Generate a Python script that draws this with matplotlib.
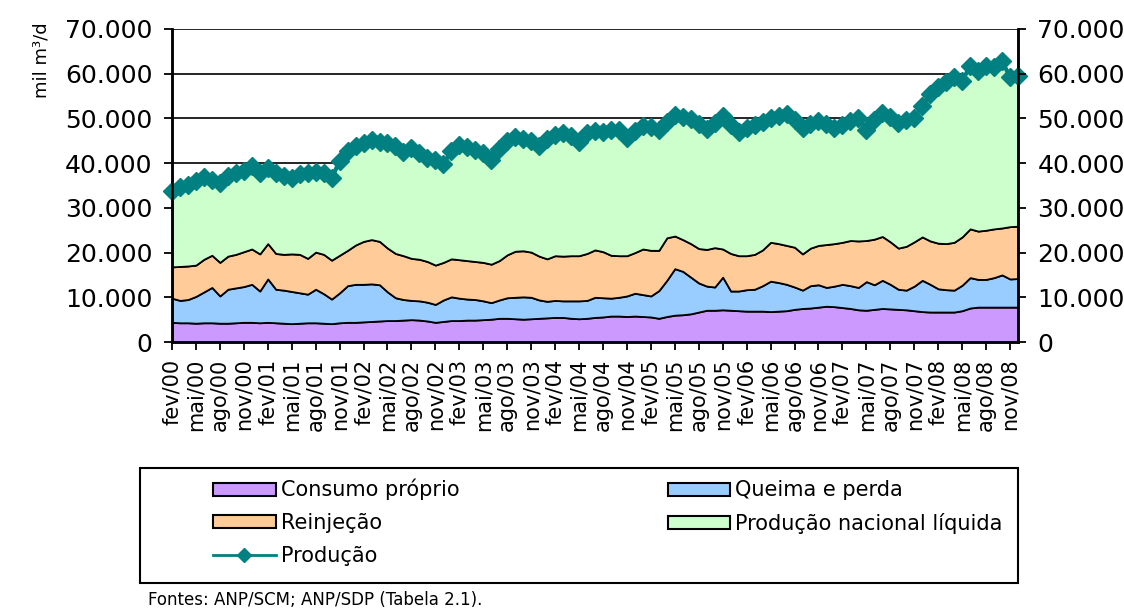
import matplotlib
matplotlib.use("Agg")
import matplotlib.pyplot as plt
import matplotlib.patches as mpatches
from matplotlib.lines import Line2D
from matplotlib.ticker import FuncFormatter
import numpy as np

plt.rcParams['font.family'] = ['DejaVu Sans']

# monthly categories fev/00 .. dez/08
meses = ['jan', 'fev', 'mar', 'abr', 'mai', 'jun', 'jul', 'ago', 'set', 'out', 'nov', 'dez']
categorias = [f"{meses[m]}/{a:02d}" for a in range(0, 9) for m in range(12)][1:]

tick_labels = ['fev/00', 'mai/00', 'ago/00', 'nov/00', 'fev/01', 'mai/01', 'ago/01', 'nov/01',
               'fev/02', 'mai/02', 'ago/02', 'nov/02', 'fev/03', 'mai/03', 'ago/03', 'nov/03',
               'fev/04', 'mai/04', 'ago/04', 'nov/04', 'fev/05', 'mai/05', 'ago/05', 'nov/05',
               'fev/06', 'mai/06', 'ago/06', 'nov/06', 'fev/07', 'mai/07', 'ago/07', 'nov/07',
               'fev/08', 'mai/08', 'ago/08', 'nov/08']

consumo_proprio = [
    4400, 4300, 4300, 4200, 4300, 4300, 4200, 4200, 4300, 4400, 4400, 4300,
    4400, 4300, 4200, 4100, 4200, 4300, 4300, 4200, 4100, 4300, 4400, 4400,
    4500, 4600, 4700, 4800, 4800, 4900, 5000, 4900, 4700, 4400, 4600, 4800,
    4800, 4900, 4900, 5000, 5100, 5300, 5300, 5200, 5100, 5200, 5300, 5400,
    5500, 5500, 5300, 5200, 5300, 5500, 5600, 5800, 5800, 5700, 5800, 5700,
    5600, 5300, 5700, 6000, 6100, 6300, 6700, 7100, 7100, 7200, 7100, 7000,
    6900, 6900, 6900, 6800, 6900, 7000, 7300, 7500, 7600, 7800, 8000, 7900,
    7700, 7500, 7200, 7100, 7300, 7500, 7400, 7300, 7200, 7000, 6800, 6700,
    6700, 6700, 6700, 7000, 7600, 7800, 7800, 7800, 7800, 7800, 7800]

queima_perda = [
    5400, 5000, 5200, 6000, 6900, 7900, 6100, 7600, 7800, 8000, 8500, 7100,
    9700, 7500, 7400, 7200, 6800, 6400, 7500, 6600, 5500, 6700, 8200, 8500,
    8400, 8400, 8100, 6400, 5100, 4600, 4300, 4300, 4200, 4000, 4800, 5300,
    5000, 4700, 4600, 4200, 3700, 4100, 4600, 4800, 5000, 4800, 4100, 3700,
    3800, 3700, 3900, 4000, 4000, 4500, 4300, 4000, 4200, 4600, 5100, 4900,
    4700, 6200, 8100, 10400, 9700, 8200, 6500, 5400, 5200, 7300, 4300, 4400,
    4800, 4900, 5700, 6800, 6400, 5900, 5000, 4100, 5000, 5000, 4200, 4600,
    5200, 5100, 5000, 6400, 5500, 6300, 5500, 4500, 4400, 5500, 7000, 6200,
    5200, 5000, 4900, 5700, 6800, 6200, 6200, 6600, 7200, 6300, 6400]

reinjecao = [
    7000, 7600, 7500, 7000, 7300, 7200, 7500, 7400, 7500, 7800, 7900, 8300,
    7900, 8000, 8000, 8400, 8600, 8000, 8300, 8800, 8700, 8400, 7900, 8800,
    9600, 9900, 9700, 9800, 9900, 9800, 9400, 9300, 9100, 8800, 8400, 8500,
    8600, 8600, 8500, 8600, 8600, 8800, 9600, 10300, 10300, 10100, 9800, 9500,
    10000, 10000, 10100, 10100, 10500, 10600, 10300, 9600, 9300, 9000, 9100, 10200,
    10200, 9000, 9500, 7300, 7100, 7500, 7700, 8200, 8800, 6300, 8400, 7900,
    7600, 7800, 8000, 8700, 8700, 8700, 8900, 8100, 8400, 8800, 9600, 9500,
    9400, 10100, 10400, 9200, 10200, 9800, 9500, 9200, 9800, 9900, 9700, 9700,
    10200, 10300, 10700, 10800, 10900, 10800, 11000, 10900, 10500, 11700, 11700]

producao_liquida = [
    17000, 17800, 18200, 18700, 18500, 16900, 17700, 18000, 18100, 18000, 18600, 18100,
    17000, 18100, 17600, 16900, 17900, 19200, 18000, 18200, 18300, 21100, 22300, 22200,
    22000, 22300, 22300, 23500, 24000, 23300, 24700, 23800, 23100, 23400, 21900, 24200,
    25700, 25300, 25000, 24400, 23400, 25000, 25400, 25500, 25000, 24900, 24600, 26700,
    27000, 27600, 26700, 25500, 27000, 26700, 26800, 28000, 28200, 26400, 27200, 27500,
    27500, 27000, 25900, 27100, 27400, 27800, 27900, 26900, 27900, 29700, 28700, 27600,
    28500, 29000, 28700, 27900, 28500, 29300, 28500, 28200, 27700, 27800, 27000, 25900,
    26300, 26700, 27600, 24800, 26600, 27700, 28000, 28000, 28200, 27800, 29300, 32800,
    34900, 36200, 36900, 34900, 36400, 35800, 36700, 36100, 37400, 33400, 33600]

producao = [
    33800, 34700, 35200, 35900, 37000, 36300, 35500, 37200, 37700, 38200, 39400, 37800,
    39000, 37900, 37200, 36600, 37500, 37900, 38100, 37800, 36600, 40500, 42800, 43900,
    44500, 45200, 44800, 44500, 43800, 42600, 43400, 42300, 41100, 40600, 39700, 42800,
    44100, 43500, 43000, 42200, 40800, 43200, 44900, 45800, 45400, 45000, 43800, 45300,
    46300, 46800, 46000, 44800, 46800, 47300, 47000, 47400, 47500, 45700, 47200, 48300,
    48000, 47500, 49200, 50800, 50300, 49800, 48800, 47600, 49000, 50500, 48500, 46900,
    47800, 48600, 49300, 50200, 50500, 50900, 49700, 47900, 48700, 49400, 48800, 47900,
    48600, 49400, 50200, 47500, 49600, 51300, 50400, 49000, 49600, 50200, 52800, 55400,
    57000, 58200, 59200, 58400, 61700, 60600, 61700, 61400, 62900, 59200, 59500]

serie_nomes = ['Consumo próprio', 'Queima e perda', 'Reinjeção', 'Produção nacional líquida']
cores = ['#cc99ff', '#99ccff', '#ffcc99', '#ccffcc']
cor_linha = '#008080'

W, H = 1124, 616
fig = plt.figure(figsize=(W / 100, H / 100), dpi=100)
ax = fig.add_axes([172 / W, 1 - 342 / H, (1018 - 172) / W, (342 - 29) / H])

x = np.arange(len(categorias))
ax.stackplot(x, consumo_proprio, queima_perda, reinjecao, producao_liquida,
             colors=cores, edgecolor='black', linewidth=1.3, zorder=2)
ax.plot(x, producao, color=cor_linha, lw=3, marker='D', markersize=9,
        markeredgecolor=cor_linha, zorder=4, clip_on=False)

ax.set_xlim(0, len(categorias) - 1)
ax.set_ylim(0, 70000)
ax.set_yticks(np.arange(0, 70001, 10000))
fmt = FuncFormatter(lambda v, p: f"{int(v):,}".replace(",", "."))
ax.yaxis.set_major_formatter(fmt)
ax.grid(axis='y', color='black', lw=1.2, zorder=0)
ax.set_axisbelow(True)

tick_pos = [categorias.index(t) for t in tick_labels]
ax.set_xticks(tick_pos)
ax.set_xticklabels(tick_labels, rotation=90, fontsize=15)
ax.tick_params(axis='x', direction='out', length=6, width=1.3, pad=6)
ax.tick_params(axis='y', direction='out', length=6, width=1.3, labelsize=18, pad=8)

for s in ['left', 'right', 'bottom']:
    ax.spines[s].set_linewidth(1.8)
ax.spines['top'].set_visible(False)

ax2 = ax.twinx()
ax2.set_ylim(ax.get_ylim())
ax2.set_yticks(np.arange(0, 70001, 10000))
ax2.yaxis.set_major_formatter(fmt)
ax2.tick_params(axis='y', direction='out', length=6, width=1.3, labelsize=18, pad=8)
for s in ['left', 'right', 'bottom']:
    ax2.spines[s].set_linewidth(1.8)
ax2.spines['top'].set_visible(False)

fig.text(41 / W, 1 - 60 / H, 'mil m³/d', rotation=90, ha='center', va='center', fontsize=13)

# legend frame
fig.patches.append(mpatches.Rectangle((140 / W, 1 - 583 / H), (1018 - 140) / W, (583 - 468) / H,
                                      transform=fig.transFigure, fill=False,
                                      edgecolor='black', lw=1.5))

h_cons = mpatches.Patch(facecolor=cores[0], edgecolor='black', lw=1.5, label=serie_nomes[0])
h_quei = mpatches.Patch(facecolor=cores[1], edgecolor='black', lw=1.5, label=serie_nomes[1])
h_rein = mpatches.Patch(facecolor=cores[2], edgecolor='black', lw=1.5, label=serie_nomes[2])
h_liq = mpatches.Patch(facecolor=cores[3], edgecolor='black', lw=1.5, label=serie_nomes[3])
h_prod = Line2D([], [], color=cor_linha, lw=2, marker='D', markersize=7, label='Produção')

fig.legend(handles=[h_cons, h_rein, h_prod, h_quei, h_liq], ncol=2, frameon=False,
           loc='upper left', bbox_to_anchor=(213 / W, 1 - 479 / H),
           borderpad=0, borderaxespad=0, fontsize=15, handlelength=3.0,
           handleheight=0.6, handletextpad=0.25, labelspacing=0.6, columnspacing=10.0)

fig.text(148 / W, 1 - 600 / H, 'Fontes: ANP/SCM; ANP/SDP (Tabela 2.1).', ha='left', va='center',
         fontsize=12)

fig.savefig('out.png', dpi=100)
